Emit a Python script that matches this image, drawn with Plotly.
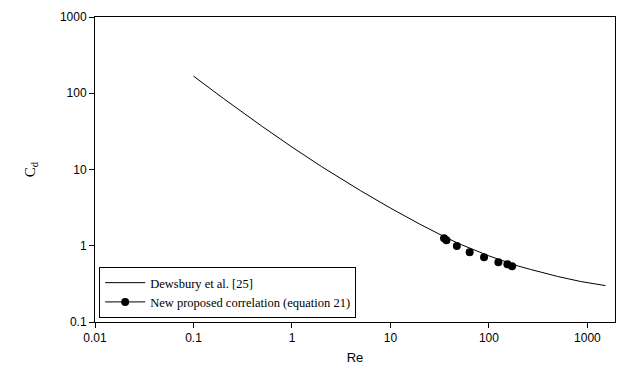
import plotly.graph_objects as go

# Dewsbury et al. [25] curve
dews_re = [0.1, 0.2, 0.5, 1, 2, 5, 10, 20, 35, 50, 100, 200, 263, 500, 851, 1000, 1524]
dews_cd = [168, 85.9, 36.6, 19.7, 10.9, 5.25, 3.12, 1.91, 1.32, 1.06, 0.736, 0.54, 0.49, 0.395, 0.34, 0.33, 0.30]

# New proposed correlation (equation 21) points
new_re = [35, 37, 47.2, 63.7, 89.2, 124.7, 153.9, 171.8]
new_cd = [1.25, 1.18, 0.99, 0.82, 0.705, 0.606, 0.571, 0.54]

x_ticks = [0.01, 0.1, 1, 10, 100, 1000]
x_ticktext = ["0.01", "0.1", "1", "10", "100", "1000"]
y_ticks = [0.1, 1, 10, 100, 1000]
y_ticktext = ["0.1", "1", "10", "100", "1000"]

fig = go.Figure()
fig.add_trace(go.Scatter(x=dews_re, y=dews_cd, mode="lines",
                         line=dict(color="black", width=1),
                         name="Dewsbury et al. [25]"))
fig.add_trace(go.Scatter(x=new_re, y=new_cd, mode="markers",
                         marker=dict(color="black", size=8),
                         showlegend=False, legendgroup="new"))
fig.add_trace(go.Scatter(x=[None], y=[None], mode="lines+markers",
                         line=dict(color="black", width=1),
                         marker=dict(color="black", size=8),
                         legendgroup="new",
                         name="New proposed correlation (equation 21)"))

axis_common = dict(showline=True, linecolor="black", linewidth=1, mirror=True,
                   ticks="outside", ticklen=5, tickcolor="black", showgrid=False,
                   zeroline=False, tickfont=dict(family="Liberation Sans", size=12, color="black"))

fig.update_xaxes(type="log", range=[-2, 3.28], tickvals=x_ticks, ticktext=x_ticktext,
                 title=dict(text="Re", font=dict(family="Liberation Sans", size=13, color="black"),
                            standoff=8),
                 **axis_common)
fig.update_yaxes(type="log", range=[-1, 3], tickvals=y_ticks, ticktext=y_ticktext,
                 title=dict(text="C<sub>d</sub>", font=dict(family="Liberation Serif", size=15, color="black"),
                            standoff=20),
                 **axis_common)

fig.update_layout(
    width=618, height=374,
    margin=dict(l=95, r=3, t=17, b=52),
    plot_bgcolor="white", paper_bgcolor="white",
    legend=dict(x=0.008, y=0.013, xanchor="left", yanchor="bottom",
                bordercolor="black", borderwidth=1, bgcolor="white",
                font=dict(family="Liberation Serif", size=12.5, color="black"),
                tracegroupgap=0, itemwidth=40),
)

fig.write_html("out.html", config={"displayModeBar": False},
               post_script="document.body.style.margin='0';document.body.style.overflow='hidden';")
